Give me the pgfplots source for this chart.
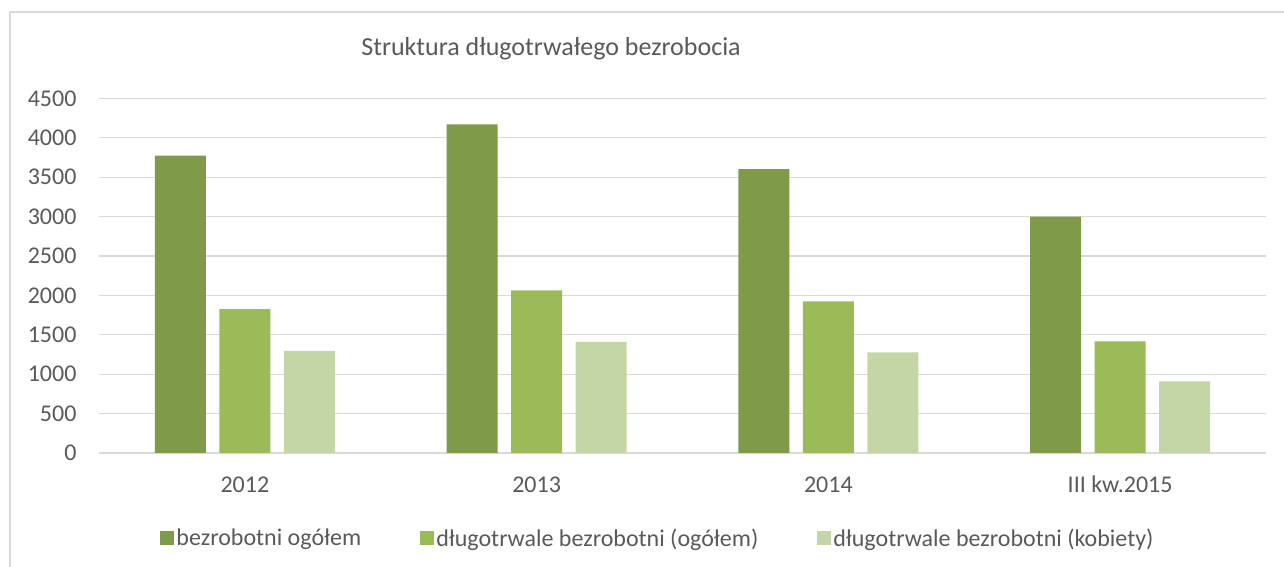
\documentclass[border=0pt]{standalone}
\usepackage{fontspec}
\setmainfont{Carlito}
\usepackage{pgfplots}
\pgfplotsset{compat=1.18}
\definecolor{c1}{HTML}{7F9A48}
\definecolor{c2}{HTML}{9BBB59}
\definecolor{c3}{HTML}{C4D6A6}
\definecolor{txt}{HTML}{595959}
\definecolor{gridc}{HTML}{D9D9D9}
\begin{document}
\begin{tikzpicture}[x=1pt,y=1pt]
\path[use as bounding box] (0,0) rectangle (1284,567);
\draw[gridc, line width=1.2pt] (10,-10) rectangle (1300,555);
\node[text=txt, font=\fontsize{26}{30}\selectfont] at (551,518) {Struktura długotrwałego bezrobocia};
\begin{axis}[
  at={(99pt,114pt)}, anchor=south west,
  scale only axis, width=1167pt, height=354.7pt,
  xmin=-0.5, xmax=3.5, ymin=0, ymax=4500,
  ytick={0,500,...,4500},
  xtick={0,1,2,3},
  xticklabels={2012,2013,2014,III kw.2015},
  axis line style={draw=none},
  major tick length=0pt,
  ymajorgrids, grid style={gridc, line width=1.2pt},
  tick label style={text=txt, font=\fontsize{24}{28}\selectfont},
  /pgf/number format/assume math mode=true,
  /pgf/number format/1000 sep={},
  yticklabel style={anchor=east, xshift=-19pt},
  xticklabel style={text height=16pt, text depth=5pt, yshift=-20pt},
  legend columns=3,
  legend style={at={(0.479,-0.2396)}, anchor=center, draw=none, fill=none,
    text=txt, font=\fontsize{24}{28}\selectfont,
    /tikz/every even column/.append style={column sep=57pt}},
  legend image code/.code={\fill[#1] (0pt,-7pt) rectangle (14pt,7pt);},
]
\addplot[ybar, bar width=0.175, bar shift=-0.221, fill=c1, draw=none] coordinates {(0,3772) (1,4170) (2,3601) (3,3000)};
\addlegendentry{bezrobotni ogółem}
\addplot[ybar, bar width=0.175, bar shift=0, fill=c2, draw=none] coordinates {(0,1826) (1,2063) (2,1924) (3,1415)};
\addlegendentry{długotrwale bezrobotni (ogółem)}
\addplot[ybar, bar width=0.175, bar shift=0.221, fill=c3, draw=none] coordinates {(0,1297) (1,1411) (2,1276) (3,909)};
\addlegendentry{długotrwale bezrobotni (kobiety)}
\end{axis}
\end{tikzpicture}
\end{document}
